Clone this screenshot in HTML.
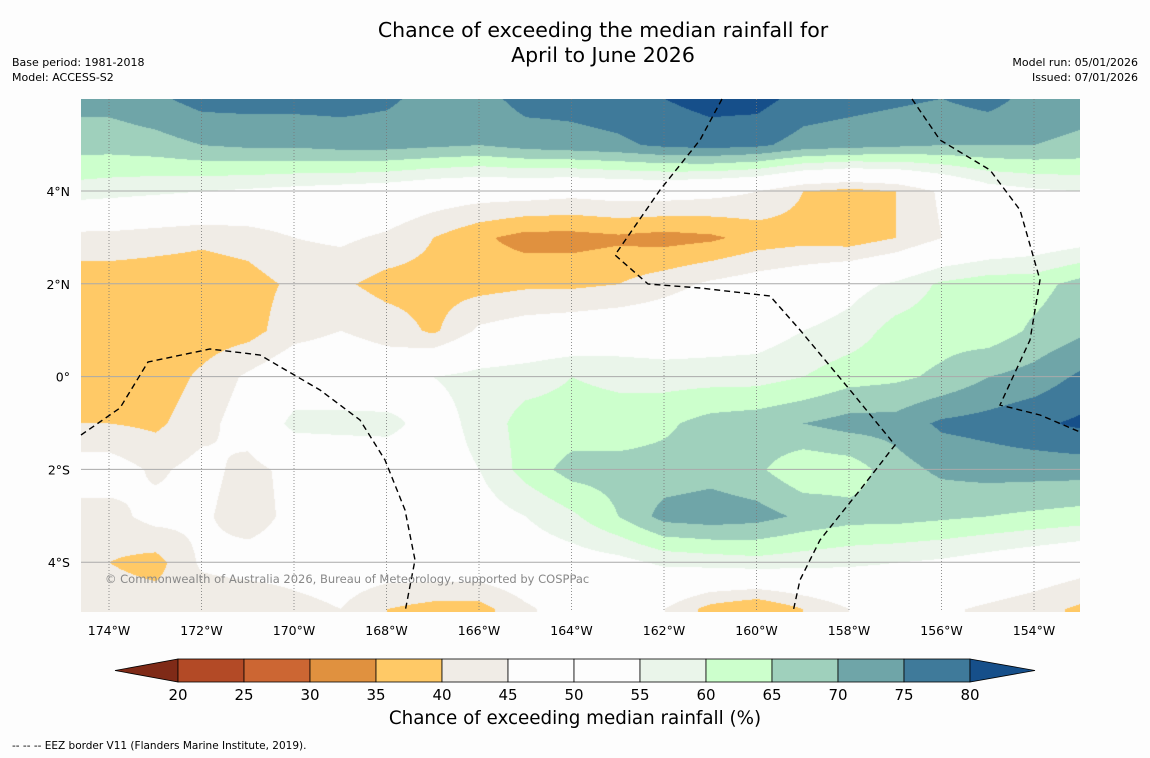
<!DOCTYPE html>
<html><head><meta charset="utf-8">
<style>
body{margin:0;background:#fdfdfd;font-family:"DejaVu Sans","Liberation Sans",sans-serif;}
#wrap{position:relative;width:1150px;height:758px;overflow:hidden;background:#fdfdfd;}
.t{position:absolute;color:#000;}
</style></head><body>
<div id="wrap">
<div class="t" style="left:0;width:1206px;top:18px;text-align:center;font-size:20.5px;line-height:25px;">Chance of exceeding the median rainfall for<br>April to June 2026</div>
<div class="t" style="left:12px;top:55px;font-size:11px;line-height:15px;">Base period: 1981-2018<br>Model: ACCESS-S2</div>
<div class="t" style="right:12px;top:55px;font-size:11px;line-height:15px;text-align:right;">Model run: 05/01/2026<br>Issued: 07/01/2026</div>
<canvas id="map" width="999" height="513" style="position:absolute;left:81px;top:99px;"></canvas>
<svg id="ov" width="1150" height="758" style="position:absolute;left:0;top:0;"></svg>
<div class="t" style="left:105px;top:572px;font-size:11.5px;color:#888;">© Commonwealth of Australia 2026, Bureau of Meteorology, supported by COSPPac</div>
<div class="t" style="left:0;width:1150px;top:708px;text-align:center;font-size:18.3px;">Chance of exceeding median rainfall (%)</div>
<div class="t" style="left:12px;top:740px;font-size:10.5px;">--  --  -- EEZ border V11 (Flanders Marine Institute, 2019).</div>
</div>
<script>
const lons=[-175,-174,-173,-172,-171,-170,-169,-168,-167,-166,-165,-164,-163,-162,-161,-160,-159,-158,-157,-156,-155,-154,-153];
const lats=[6,5,4,3,2,1,0,-1,-2,-3,-4,-5];
const r6=[72,72,74,77,77,77,77,76,73,73,77,77,78,80,82,82,78,77,76,75,77,73,72];
const r5=[67,67,68,70,71,71,72,72,71,70,72,73,74,76,77,76,73,72,71,70,70,70,69];
const r4=[58,57,56,55,54,53,52,51,49,48,48,47,48,48,47,45,40,38,40,46,52,54,55];
const r3=[43,43,42,41,42,45,46,44,40,36,33,33,34,33,34,37,38,37,40,45,48,50,52];
const r2=[37,37,37,37,38,41,41,38,38,38,39,39,40,43,46,48,50,53,56,61,63,63,67];
const r1=[37,37,37,37,38,43,45,43,39,46,48,49,50,50,51,52,55,57,62,63,62,66,69];
const r0=[37,37,37,41,46,50,50,49,55,57,58,60,59,58,58,58,60,63,64,66,70,72,76];
const rm1=[40,40,39,43,48,57,57,57,52,57,62,62,62,64,67,68,70,72,72,76,77,79,81];
const rm2=[48,48,44,47,43,47,49,50,52,55,62,67,67,67,68,66,61,62,68,71,72,72,72];
const rm3=[43,43,47,46,42,47,49,50,51,52,55,59,65,72,73,72,69,67,67,66,65,64,63];
const rm4=[40,40,38,46,48,48,49,49,50,50,51,52,53,56,57,58,57,56,55,54,52,50,48];
const rm5=[43,43,43,41,40,43,45,40,38,38,44,48,47,45,38,35,40,45,47,46,44,42,39];
const grid=[r6,r5,r4,r3,r2,r1,r0,rm1,rm2,rm3,rm4,rm5];
const levels=[20,25,30,35,40,45,50,55,60,65,70,75,80];
const colors=["#7f2a17","#b34a26","#cc6633","#e0913f","#ffc966","#f0ece6","#fdfdfd","#fdfdfd","#eaf5ea","#ccffcc","#9fd0bc","#6fa5a8","#3f7a9a","#164f8a"];
const lonTicks=[-174,-172,-170,-168,-166,-164,-162,-160,-158,-156,-154];
const latTicks=[4,2,0,-2,-4];
function X(lon){return 109+(lon+174)*46.25;}
function Y(lat){return 191+(4-lat)*46.4;}
function hex(c){return [parseInt(c.slice(1,3),16),parseInt(c.slice(3,5),16),parseInt(c.slice(5,7),16)];}
function cidx(v){let i=0;while(i<levels.length&&v>=levels[i])i++;return i;}
const cv=document.getElementById('map'),ctx=cv.getContext('2d');
const img=ctx.createImageData(999,513);const rgb=colors.map(hex);
for(let py=0;py<513;py++){const lat=4-(py+99-191)/46.4;let fj=(lats[0]-lat);fj=Math.max(0,Math.min(lats.length-1.0001,fj));const j=Math.floor(fj),tj=fj-j;
for(let px=0;px<999;px++){const lon=-174+(px+81-109)/46.25;let fi=lon-lons[0];fi=Math.max(0,Math.min(lons.length-1.0001,fi));const i=Math.floor(fi),ti=fi-i;
const v=(grid[j][i]*(1-ti)+grid[j][i+1]*ti)*(1-tj)+(grid[j+1][i]*(1-ti)+grid[j+1][i+1]*ti)*tj;
const c=rgb[cidx(v)];const k=(py*999+px)*4;img.data[k]=c[0];img.data[k+1]=c[1];img.data[k+2]=c[2];img.data[k+3]=255;}}
ctx.putImageData(img,0,0);
const ov=document.getElementById('ov');const NS='http://www.w3.org/2000/svg';
function mk(t,a){const e=document.createElementNS(NS,t);for(const k in a)e.setAttribute(k,a[k]);ov.appendChild(e);return e;}
const FF='DejaVu Sans, Liberation Sans, sans-serif';
lonTicks.forEach(l=>{const x=X(l);
const g=mk('line',{x1:x,x2:x,y1:99,y2:612,stroke:'#777','stroke-width':0.8,'stroke-dasharray':'1,2'});


const t=mk('text',{x:x,y:635,'text-anchor':'middle','font-size':12.5,'font-family':FF});t.textContent=Math.abs(l)+'°W';

});
latTicks.forEach(l=>{const y=Y(l);
const g=mk('line',{x1:81,x2:1080,y1:y,y2:y,stroke:'#aaa','stroke-width':1});


const t=mk('text',{x:70,y:y+5,'text-anchor':'end','font-size':12.5,'font-family':FF});t.textContent=l===0?'0°':Math.abs(l)+'°'+(l>0?'N':'S');

});
const eez=[[[81,435],[120,408],[148,362],[210,349],[260,355],[320,390],[360,420],[385,460],[405,510],[415,560],[405,612]],
[[722,99],[700,140],[660,190],[615,255],[648,284],[700,288],[770,296],[800,330],[850,390],[895,445],[860,490],[820,540],[800,580],[793,612]],
[[912,99],[940,140],[990,170],[1020,210],[1040,280],[1030,340],[1000,405],[1040,415],[1080,432]]];
eez.forEach(p=>{const e=mk('polyline',{points:p.map(q=>q.join(',')).join(' '),fill:'none',stroke:'#000','stroke-width':1.4,'stroke-dasharray':'6,4'});

});
const cb0=178,cbw=66,cby=659,cbh=23;
mk('polygon',{points:`115,${cby+cbh/2} ${cb0},${cby} ${cb0},${cby+cbh}`,fill:colors[0],stroke:'#000','stroke-width':0.8});
for(let i=0;i<levels.length-1;i++){const r=mk('rect',{x:cb0+i*cbw,y:cby,width:cbw,height:cbh,fill:colors[i+1],stroke:'#000','stroke-width':0.8});

}
const xe=cb0+(levels.length-1)*cbw;
mk('polygon',{points:`${xe},${cby} 1035,${cby+cbh/2} ${xe},${cby+cbh}`,fill:colors[colors.length-1],stroke:'#000','stroke-width':0.8});
levels.forEach((l,i)=>{const t=mk('text',{x:cb0+i*cbw,y:700,'text-anchor':'middle','font-size':15,'font-family':FF});t.textContent=l;

});
</script>
</body></html>
